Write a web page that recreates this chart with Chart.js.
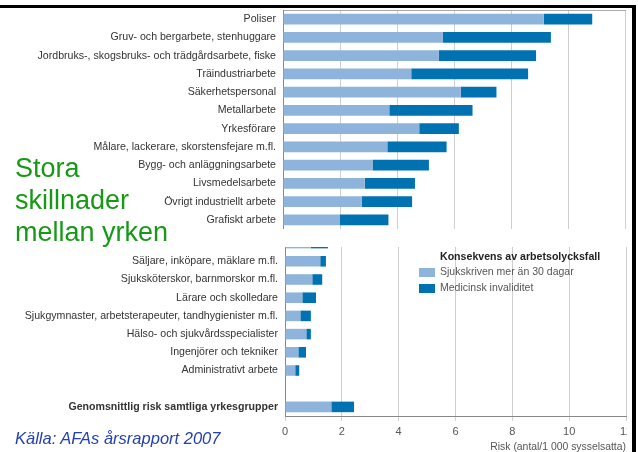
<!DOCTYPE html>
<html>
<head>
<meta charset="utf-8">
<script src="https://cdn.jsdelivr.net/npm/chart.js@4/dist/chart.umd.min.js"></script>
<style>
  body { margin: 0; background: #fff; width: 638px; height: 452px; overflow: hidden; position: relative; font-family: 'Liberation Sans', Arial, sans-serif; }
  #top-chart { position: absolute; left: 0; top: 0; }
  #bottom-wrap { position: absolute; left: 0; top: 247px; width: 630px; height: 205px; overflow: hidden; }
  #bottom-chart { position: absolute; left: 0; top: -13px; }
  .frame-top { position: absolute; left: 0; top: 5px; width: 636px; height: 3px; background: #000; }
  .frame-right { position: absolute; left: 632px; top: 5px; width: 4px; height: 447px; background: #000; }
  #headline { position: absolute; left: 15px; top: 152px; font-size: 27px; line-height: 32px; color: #169a16; }
  #source { position: absolute; left: 15px; top: 428px; font-size: 16.5px; line-height: 20px; font-style: italic; color: #2440b0; }
  #legend { position: absolute; left: 419px; top: 250px; font-size: 10.5px; color: #555; }
  #legend .title { position: absolute; left: 21px; top: 0; font-size: 10.6px; font-weight: bold; color: #222; white-space: nowrap; }
  #legend .item { position: absolute; left: 0; white-space: nowrap; }
  #legend .box { display: inline-block; width: 16px; height: 9px; vertical-align: middle; margin-right: 5px; }
</style>
</head>
<body>
<canvas id="top-chart" width="627" height="229"></canvas>
<div id="bottom-wrap"><canvas id="bottom-chart" width="627" height="219"></canvas></div>
<div id="headline">Stora<br>skillnader<br>mellan yrken</div>
<div id="source">Källa: AFAs årsrapport 2007</div>
<div id="legend">
  <div class="title">Konsekvens av arbetsolycksfall</div>
  <div class="item" style="top:15px"><span class="box" style="background:#8fb4dc"></span>Sjukskriven mer än 30 dagar</div>
  <div class="item" style="top:31px"><span class="box" style="background:#0072b2"></span>Medicinsk invaliditet</div>
</div>
<div class="frame-top"></div>
<div class="frame-right"></div>
<script>
const seriesNames = ['Sjukskriven mer än 30 dagar', 'Medicinsk invaliditet'];
const xTicks = [0, 2, 4, 6, 8, 10, 12];

const topLabels = ['Poliser', 'Gruv- och bergarbete, stenhuggare', 'Jordbruks-, skogsbruks- och trädgårdsarbete, fiske',
  'Träindustriarbete', 'Säkerhetspersonal', 'Metallarbete', 'Yrkesförare', 'Målare, lackerare, skorstensfejare m.fl.',
  'Bygg- och anläggningsarbete', 'Livsmedelsarbete', 'Övrigt industriellt arbete', 'Grafiskt arbete'];
const topSick = [9.15, 5.6, 5.47, 4.5, 6.24, 3.73, 4.78, 3.66, 3.14, 2.87, 2.76, 2.0];
const topInvalid = [1.7, 3.8, 3.41, 4.1, 1.25, 2.92, 1.39, 2.08, 1.98, 1.76, 1.77, 1.7];

const bottomLabels = ['', 'Säljare, inköpare, mäklare m.fl.', 'Sjuksköterskor, barnmorskor m.fl.', 'Lärare och skolledare',
  'Sjukgymnaster, arbetsterapeuter, tandhygienister m.fl.', 'Hälso- och sjukvårdsspecialister',
  'Ingenjörer och tekniker', 'Administrativt arbete', '', 'Genomsnittlig risk samtliga yrkesgrupper'];
const bottomSick = [0.91, 1.24, 0.96, 0.61, 0.54, 0.75, 0.47, 0.36, null, 1.63];
const bottomInvalid = [0.6, 0.2, 0.35, 0.48, 0.37, 0.16, 0.27, 0.14, null, 0.8];

const lightBlue = '#8fb4dc';
const darkBlue = '#0072b2';
const fontFamily = "'Liberation Sans', Arial, sans-serif";

function makeDatasets(sick, invalid) {
    return [
        { label: seriesNames[0], data: sick, backgroundColor: lightBlue, borderWidth: 0 },
        { label: seriesNames[1], data: invalid, backgroundColor: darkBlue, borderWidth: 0 }
    ];
}

// fixed widths/heights so the plot areas land where the original has them
function noPadding(s) {
    s.paddingTop = 0; s.paddingBottom = 0; s.paddingLeft = 0; s.paddingRight = 0;
}

function yAxis(width, boldIndex) {
    return {
        stacked: true,
        grid: { display: false, drawTicks: false },
        border: { display: true, color: '#888' },
        ticks: {
            color: '#333',
            padding: 7,
            autoSkip: false,
            font: ctx => ctx.index === boldIndex
                ? { family: fontFamily, size: 10.6, weight: 'bold' }
                : { family: fontFamily, size: 10.6 }
        },
        afterFit: s => { s.width = width; noPadding(s); }
    };
}

const commonOptions = {
    indexAxis: 'y',
    responsive: false,
    animation: false,
    events: [],
    plugins: { legend: { display: false }, tooltip: { enabled: false } },
    datasets: { bar: { barPercentage: 0.58, categoryPercentage: 1 } }
};

new Chart(document.getElementById('top-chart'), {
    type: 'bar',
    data: { labels: topLabels, datasets: makeDatasets(topSick, topInvalid) },
    options: {
        ...commonOptions,
        layout: { padding: { top: 10, right: 2, left: 0, bottom: 0 } },
        scales: {
            x: {
                position: 'top',
                stacked: true,
                min: 0,
                max: 12,
                afterBuildTicks: s => { s.ticks = xTicks.map(v => ({ value: v })); },
                ticks: { display: false },
                grid: { color: '#cfcfcf', drawTicks: false },
                border: { display: true, color: '#aaa' },
                afterFit: s => { s.height = 0; noPadding(s); }
            },
            y: yAxis(283, -1)
        }
    }
});

new Chart(document.getElementById('bottom-chart'), {
    type: 'bar',
    data: { labels: bottomLabels, datasets: makeDatasets(bottomSick, bottomInvalid) },
    options: {
        ...commonOptions,
        layout: { padding: { top: 0, right: 1, left: 0, bottom: 0 } },
        scales: {
            x: {
                position: 'bottom',
                stacked: true,
                min: 0,
                max: 12,
                afterBuildTicks: s => { s.ticks = xTicks.map(v => ({ value: v })); },
                ticks: { color: '#555', padding: 4, maxRotation: 0, font: { family: fontFamily, size: 11 } },
                grid: { color: '#cfcfcf', tickLength: 5 },
                border: { display: true, color: '#888' },
                title: {
                    display: true,
                    text: 'Risk (antal/1 000 sysselsatta)',
                    align: 'end',
                    color: '#555',
                    font: { family: fontFamily, size: 10.4 },
                    padding: { top: 0, bottom: 0 }
                },
                afterFit: s => { s.height = 37; noPadding(s); }
            },
            y: yAxis(285, 9)
        }
    }
});
</script>
</body>
</html>
